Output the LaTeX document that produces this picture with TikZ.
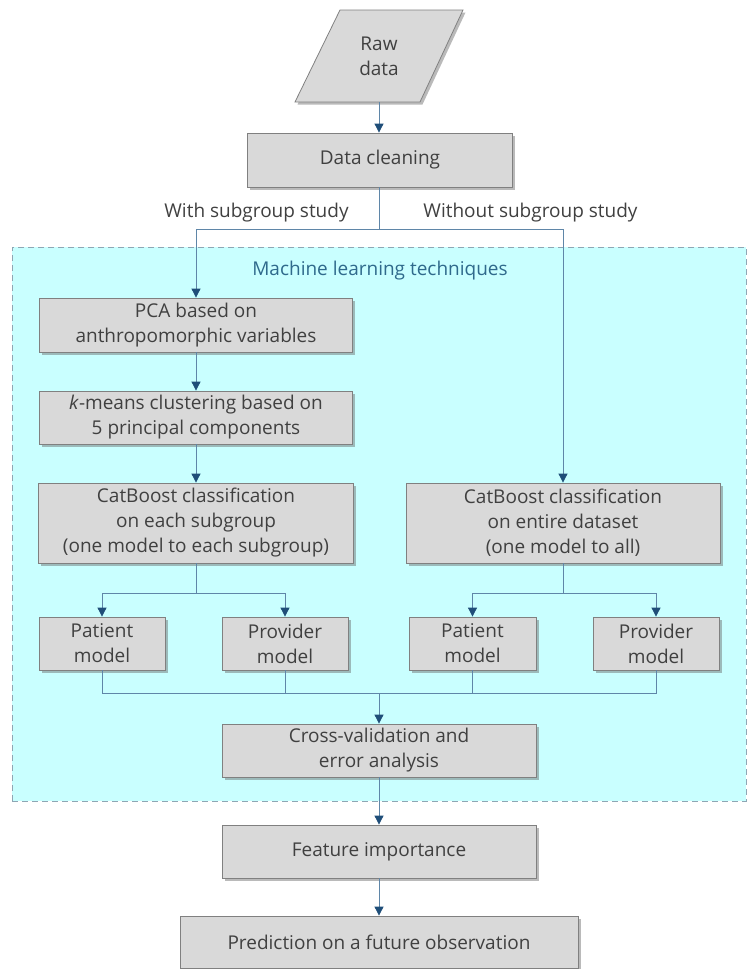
\documentclass[tikz,border=0pt]{standalone}
\usepackage{fontspec}
\setmainfont{Open Sans}
\usetikzlibrary{arrows.meta,shadows,calc}

\definecolor{boxfill}{HTML}{D9D9D9}
\definecolor{boxline}{HTML}{808080}
\definecolor{txt}{HTML}{404040}
\definecolor{wirecol}{HTML}{5F86A8}
\definecolor{tipcol}{HTML}{1F4E79}
\definecolor{mlbg}{HTML}{C9FFFF}
\definecolor{mlframe}{HTML}{8EA6B4}
\definecolor{mltitle}{HTML}{2F6A8C}

\tikzset{
  lbl/.style={text=txt, align=center, inner sep=0pt, font=\fontsize{19}{25}\selectfont},
  boxshadow/.style={drop shadow={shadow xshift=2.5pt, shadow yshift=-2.5pt, opacity=0.45, fill=black!60}},
  stepbox/.style={lbl, draw=boxline, line width=0.8pt, fill=boxfill, boxshadow},
  wire/.style={draw=wirecol, line width=0.8pt},
  flow/.style={wire, -{Triangle[length=9pt,width=9pt,color=tipcol]}},
}

\begin{document}
\begin{tikzpicture}[x=1pt,y=-1pt]
\useasboundingbox (0,0) rectangle (747,969);

% machine learning zone
\node[draw=mlframe, line width=0.8pt, dash pattern=on 6pt off 4pt, fill=mlbg,
      minimum width=734pt, minimum height=554pt, inner sep=0pt] (mlzone) at (379,524) {};
\node[lbl, text=mltitle] (mltitle) at (380,271) {Machine learning techniques};

% raw data (parallelogram)
\path[draw=boxline, line width=0.8pt, fill=boxfill, boxshadow]
  (340,10) -- (463,10) -- (420,102) -- (295,102) -- cycle;
\node[lbl, minimum width=80pt, minimum height=92pt] (raw) at (379,56) {Raw\\data};

% boxes
\node[stepbox, minimum width=265pt, minimum height=54pt] (clean) at (380,160) {Data cleaning};

\node[lbl] (withlbl) at (256.5,213) {With subgroup study};
\node[lbl] (withoutlbl) at (530.5,213) {Without subgroup study};

\node[stepbox, minimum width=313pt, minimum height=54pt] (pca) at (196,325)
  {PCA based on\\anthropomorphic variables};
\node[stepbox, minimum width=313pt, minimum height=53pt] (kmeans) at (196,417.5)
  {\textit{k}-means clustering based on\\5 principal components};
\node[stepbox, minimum width=315pt, minimum height=80pt] (cbl) at (196,523)
  {CatBoost classification\\on each subgroup\\(one model to each subgroup)};
\node[stepbox, minimum width=314pt, minimum height=80pt] (cbr) at (563,523)
  {CatBoost classification\\on entire dataset\\(one model to all)};

\node[stepbox, minimum width=126pt, minimum height=53pt] (pat1) at (102,643.5) {Patient\\model};
\node[stepbox, minimum width=126pt, minimum height=53pt] (prov1) at (285,643.5) {Provider\\model};
\node[stepbox, minimum width=127pt, minimum height=53pt] (pat2) at (472.5,643.5) {Patient\\model};
\node[stepbox, minimum width=126pt, minimum height=53pt] (prov2) at (656,643.5) {Provider\\model};

\node[stepbox, minimum width=314pt, minimum height=53pt] (cv) at (379,750.5)
  {Cross-validation and\\error analysis};
\node[stepbox, minimum width=314pt, minimum height=53pt] (feat) at (379,851.5) {Feature importance};
\node[stepbox, minimum width=398pt, minimum height=52pt] (pred) at (379,942) {Prediction on a future observation};

% connectors
\draw[flow] (raw.south) -- (raw.south |- clean.north);
\coordinate (split) at (379,229);
\draw[wire] (split |- clean.south) -- (split);
\draw[flow] (split) -| (pca.north);
\draw[flow] (split) -| (cbr.north);
\draw[flow] (pca) -- (kmeans);
\draw[flow] (kmeans) -- (cbl);

\coordinate (brl) at (196,593);
\coordinate (brr) at (563,593);
\draw[wire] (cbl.south) -- (brl);
\draw[wire] (cbr.south) -- (brr);
\draw[flow] (brl) -| (pat1.north);
\draw[flow] (brl) -| (prov1.north);
\draw[flow] (brr) -| (pat2.north);
\draw[flow] (brr) -| (prov2.north);

\coordinate (join) at (379,693);
\draw[wire] (pat1.south) |- (join);
\draw[wire] (prov1.south) |- (join);
\draw[wire] (pat2.south) |- (join);
\draw[wire] (prov2.south) |- (join);
\draw[flow] (join) -- (cv.north);
\draw[flow] (cv) -- (feat);
\draw[flow] (feat) -- (pred);
\end{tikzpicture}
\end{document}
